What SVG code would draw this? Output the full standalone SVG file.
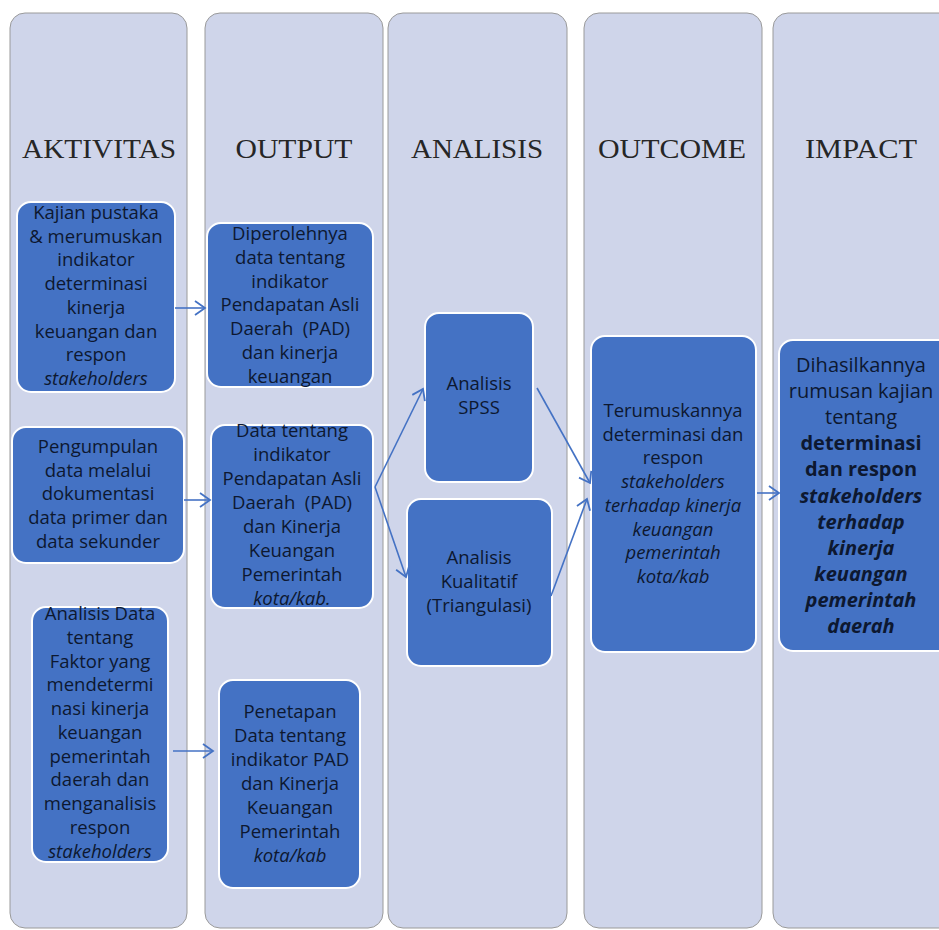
<svg xmlns="http://www.w3.org/2000/svg" width="939" height="930" viewBox="0 0 939 930">
<defs>
<marker id="ah" markerUnits="userSpaceOnUse" markerWidth="14" markerHeight="16" refX="11" refY="8" orient="auto" viewBox="0 0 14 16">
<path d="M1,1 L11,8 L1,15" fill="none" stroke="#4472c4" stroke-width="1.8"/>
</marker>
</defs>
<style>
.col{fill:#cfd5ea;stroke:#9a9a9a;stroke-width:1}
.hd{font-family:"Liberation Serif",serif;font-size:28px;fill:#262626;text-anchor:middle}
.box{fill:#4472c4;stroke:#ffffff;stroke-width:2}
.t{font-family:"Open Sans","Liberation Sans",sans-serif;font-size:18.5px;fill:#0d1830;text-anchor:middle}
.ti{font-style:italic}
.big{font-size:20px}
.b{font-weight:bold}
.cn{fill:none;stroke:#4472c4;stroke-width:1.6;marker-end:url(#ah)}
</style>
<rect width="939" height="930" fill="#ffffff"/>
<g id="columns">
<rect class="col" x="10" y="13" width="177" height="915" rx="15"/>
<rect class="col" x="205" y="13" width="178" height="915" rx="15"/>
<rect class="col" x="388" y="13" width="179" height="915" rx="15"/>
<rect class="col" x="584" y="13" width="178" height="915" rx="15"/>
<rect class="col" x="773" y="13" width="200" height="915" rx="15"/>
</g>
<g id="headers">
<text class="hd" x="99" y="158" textLength="154" lengthAdjust="spacingAndGlyphs">AKTIVITAS</text>
<text class="hd" x="294" y="158" textLength="117" lengthAdjust="spacingAndGlyphs">OUTPUT</text>
<text class="hd" x="477" y="158" textLength="132" lengthAdjust="spacingAndGlyphs">ANALISIS</text>
<text class="hd" x="672" y="158" textLength="148" lengthAdjust="spacingAndGlyphs">OUTCOME</text>
<text class="hd" x="861" y="158" textLength="112" lengthAdjust="spacingAndGlyphs">IMPACT</text>
</g>
<g id="a1">
<rect class="box" x="17" y="202" width="158" height="190" rx="14"/>
<text class="t" x="96" y="219">Kajian pustaka</text>
<text class="t" x="96" y="243">&amp; merumuskan</text>
<text class="t" x="96" y="266">indikator</text>
<text class="t" x="96" y="290">determinasi</text>
<text class="t" x="96" y="314">kinerja</text>
<text class="t" x="96" y="338">keuangan dan</text>
<text class="t" x="96" y="361">respon</text>
<text class="t ti" x="96" y="385">stakeholders</text>
</g>
<g id="a2">
<rect class="box" x="12" y="427" width="172" height="136" rx="14"/>
<text class="t" x="98" y="453">Pengumpulan</text>
<text class="t" x="98" y="477">data melalui</text>
<text class="t" x="98" y="500">dokumentasi</text>
<text class="t" x="98" y="524">data primer dan</text>
<text class="t" x="98" y="548">data sekunder</text>
</g>
<g id="a3">
<rect class="box" x="32" y="607" width="136" height="255" rx="14"/>
<text class="t" x="100" y="620">Analisis Data</text>
<text class="t" x="100" y="644">tentang</text>
<text class="t" x="100" y="668">Faktor yang</text>
<text class="t" x="100" y="691">mendetermi</text>
<text class="t" x="100" y="715">nasi kinerja</text>
<text class="t" x="100" y="739">keuangan</text>
<text class="t" x="100" y="763">pemerintah</text>
<text class="t" x="100" y="786">daerah dan</text>
<text class="t" x="100" y="810">menganalisis</text>
<text class="t" x="100" y="834">respon</text>
<text class="t ti" x="100" y="858">stakeholders</text>
</g>
<g id="o1">
<rect class="box" x="207" y="223" width="166" height="164" rx="14"/>
<text class="t" x="290" y="240">Diperolehnya</text>
<text class="t" x="290" y="264">data tentang</text>
<text class="t" x="290" y="288">indikator</text>
<text class="t" x="290" y="311">Pendapatan Asli</text>
<text class="t" x="290" y="335" xml:space="preserve">Daerah  (PAD)</text>
<text class="t" x="290" y="359">dan kinerja</text>
<text class="t" x="290" y="383">keuangan</text>
</g>
<g id="o2">
<rect class="box" x="211" y="425" width="162" height="183" rx="14"/>
<text class="t" x="292" y="437">Data tentang</text>
<text class="t" x="292" y="461">indikator</text>
<text class="t" x="292" y="485">Pendapatan Asli</text>
<text class="t" x="292" y="509" xml:space="preserve">Daerah  (PAD)</text>
<text class="t" x="292" y="533">dan Kinerja</text>
<text class="t" x="292" y="557">Keuangan</text>
<text class="t" x="292" y="581">Pemerintah</text>
<text class="t ti" x="292" y="605">kota/kab.</text>
</g>
<g id="o3">
<rect class="box" x="219" y="680" width="141" height="208" rx="14"/>
<text class="t" x="290" y="718">Penetapan</text>
<text class="t" x="290" y="742">Data tentang</text>
<text class="t" x="290" y="766">indikator PAD</text>
<text class="t" x="290" y="790">dan Kinerja</text>
<text class="t" x="290" y="814">Keuangan</text>
<text class="t" x="290" y="838">Pemerintah</text>
<text class="t ti" x="290" y="862">kota/kab</text>
</g>
<g id="spss">
<rect class="box" x="425" y="313" width="108" height="169" rx="14"/>
<text class="t" x="479" y="390">Analisis</text>
<text class="t" x="479" y="414">SPSS</text>
</g>
<g id="kualitatif">
<rect class="box" x="407" y="499" width="145" height="167" rx="14"/>
<text class="t" x="479" y="564">Analisis</text>
<text class="t" x="479" y="588">Kualitatif</text>
<text class="t" x="479" y="612">(Triangulasi)</text>
</g>
<g id="outcome">
<rect class="box" x="591" y="336" width="165" height="316" rx="14"/>
<text class="t" x="673" y="417">Terumuskannya</text>
<text class="t" x="673" y="441">determinasi dan</text>
<text class="t" x="673" y="464">respon</text>
<text class="t ti" x="673" y="488">stakeholders</text>
<text class="t ti" x="673" y="512">terhadap kinerja</text>
<text class="t ti" x="673" y="536">keuangan</text>
<text class="t ti" x="673" y="559">pemerintah</text>
<text class="t ti" x="673" y="583">kota/kab</text>
</g>
<g id="impact">
<rect class="box" x="779" y="340" width="175" height="311" rx="14"/>
<text class="t big" x="861" y="372">Dihasilkannya</text>
<text class="t big" x="861" y="398">rumusan kajian</text>
<text class="t big" x="861" y="424">tentang</text>
<text class="t big b" x="861" y="450">determinasi</text>
<text class="t big b" x="861" y="476">dan respon</text>
<text class="t big b ti" x="861" y="503">stakeholders</text>
<text class="t big b ti" x="861" y="529">terhadap</text>
<text class="t big b ti" x="861" y="555">kinerja</text>
<text class="t big b ti" x="861" y="581">keuangan</text>
<text class="t big b ti" x="861" y="607">pemerintah</text>
<text class="t big b ti" x="861" y="633">daerah</text>
</g>
<g id="connectors">
<line class="cn" x1="175" y1="308" x2="205" y2="308"/>
<line class="cn" x1="184" y1="500" x2="210" y2="500"/>
<line class="cn" x1="173" y1="751" x2="213" y2="751"/>
<line class="cn" x1="375" y1="487" x2="423" y2="389"/>
<line class="cn" x1="375" y1="487" x2="406" y2="577"/>
<line class="cn" x1="537" y1="388" x2="590" y2="483"/>
<line class="cn" x1="551" y1="596" x2="587" y2="499"/>
<line class="cn" x1="757" y1="493" x2="779" y2="493"/>
</g>
</svg>
